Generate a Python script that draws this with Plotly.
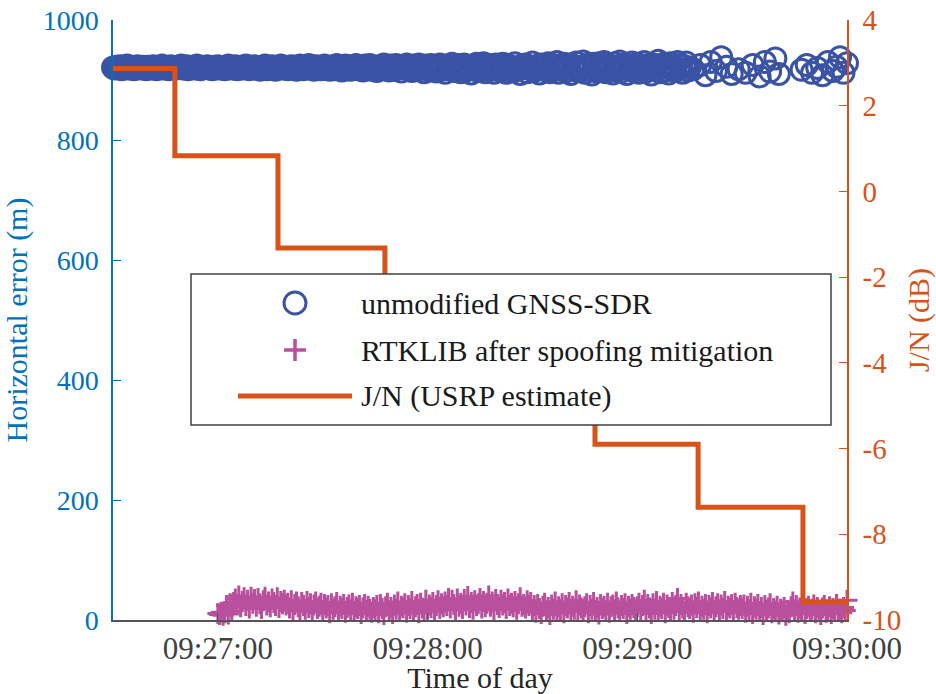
import plotly.graph_objects as go
import pandas as pd

# ---------------- data ----------------
T0 = "2021-01-01 09:26:30"

# unmodified GNSS-SDR horizontal error (m), 2 Hz from 09:26:30
gnss_dense = [
    921,919,922,920,923,918,921,920,924,919,920,922,918,921,923,920,919,922,921,918,
    922,920,919,923,921,918,920,922,924,919,921,920,918,923,920,921,919,922,920,924,
    919,921,923,918,920,922,921,919,924,920,918,922,921,920,923,919,921,918,922,920,
    923,919,921,920,918,922,924,920,919,921,923,918,920,922,919,921,924,920,918,922,
    920,923,919,921,917,922,920,924,918,921,919,923,920,917,922,921,924,919,920,922,
    918,921,923,919,922,917,920,924,921,918,922,920,925,919,921,917,923,920,922,918,
    921,924,919,922,917,920,923,918,925,920,921,916,922,924,919,921,917,923,920,925,
    918,922,920,916,924,921,919,925,917,922,920,915,923,921,918,926,919,922,916,924,
    920,917,925,919,922,914,923,920,926,918,921,915,924,920,917,926,919,922,913,924,
    921,916,925,919,923,914,922,926,917,920,912,924,921,918,927,915,922,919,925,913,
    921,926,916,923,919,911,924,920,927,915,922,918,928,913,921,925,917,920,912,926,
    918,923,915,927,920,912,925,919,922,914,928,917,921,910,924,920,926,913,922,918,
    929,915,921,924,911,926,919,922,916,928,913,920,925,917,930,912,923,919,927,914,
    921,926,910,924,918,929,915,922,920,931,912,925,917,923,909,927,920,914,928,916,
    922,930,913,925,918,921,911,928,916,923,931,914,920,926,910,924,919,929,915,922,
    927,912,921,918,930,914,925,920,909,926,917,923,932,913,921,927,916,924,911,928,
    919,922,915,930,918,925,912,923,929,916,921,
]
gnss_step = 0.5   # seconds between dense samples
# sparser tail (seconds after 09:26:30, error in m)
gnss_tail_t = [166, 168, 169.5, 171, 172.5, 174, 175.5, 177, 179, 181, 183, 185, 186.5,
               188, 189.5, 190.5, 197, 198.5, 200, 201.5, 203, 204.5, 206, 207, 208,
               209, 210, 210.5]
gnss_tail_v = [918, 925, 908, 930, 915, 938, 922, 910, 918, 912, 925, 906, 930,
               914, 936, 910, 917, 925, 912, 920, 908, 930, 915, 922, 938,
               912, 928, 943]

# RTKLIB after spoofing mitigation (m), 2 Hz from 09:27:00
rtk_v = [
    11,9,13,8,12,24,10,27,14,29,
    35,26,40,22,31,37,24,33,20,38,28,34,23,36,27,19,32,38,25,30,22,35,29,24,37,21,31,27,33,25,
    28,20,32,17,26,30,22,15,29,24,18,31,21,27,14,25,30,19,23,28,16,26,20,24,12,27,18,22,29,15,
    23,19,26,13,21,25,17,28,14,22,19,24,11,20,26,16,23,18,13,21,
    17,24,12,26,19,9,22,28,15,21,11,25,18,30,14,23,20,27,13,24,19,31,16,22,26,12,28,20,17,33,
    18,25,21,29,15,24,32,19,27,22,
    30,24,36,20,33,26,17,35,23,28,19,34,25,39,21,29,18,32,24,27,36,20,31,22,28,40,23,30,17,34,
    26,21,33,25,29,19,35,24,28,22,31,18,27,37,23,26,20,32,24,29,
    17,24,13,26,19,11,23,28,15,21,9,25,18,30,14,22,17,27,12,24,20,29,15,23,18,32,16,25,20,14,
    22,27,12,24,18,29,16,21,10,26,19,23,15,28,13,22,25,17,30,20,14,24,19,27,11,23,18,26,21,16,
    22,28,17,24,33,15,26,20,11,27,18,31,14,23,19,28,12,25,21,16,29,18,24,36,17,26,20,14,28,22,
    19,25,13,27,21,30,16,23,18,26,12,24,20,29,15,22,27,17,25,19,31,14,23,20,26,16,28,21,18,24,
    19,25,13,23,17,28,11,22,18,26,14,21,9,24,16,20,27,12,19,15,23,10,18,14,21,8,16,12,22,30,
    17,24,13,20,15,26,11,19,23,14,18,25,12,21,16,9,20,24,13,17,22,11,19,15,26,14,18,12,21,16,33,
]
rtk_start = 30    # seconds after 09:26:30
rtk_step = 0.5    # seconds between samples

# J/N (USRP estimate) steps: seconds after 09:26:30, level in dB
jn_t = [0, 17.7, 47.2, 77.8, 107.9, 137.9, 167.4, 197.4, 210.9]
jn_v = [2.87, 0.83, -1.32, -2.9, -4.4, -5.9, -7.37, -9.58, -9.58]

x_ticks = ["09:27:00", "09:28:00", "09:29:00", "09:30:00"]
y_ticks = [0, 200, 400, 600, 800, 1000]
y2_ticks = [-10, -8, -6, -4, -2, 0, 2, 4]
legend_labels = ["unmodified GNSS-SDR", "RTKLIB after spoofing mitigation", "J/N (USRP estimate)"]

# ---------------- build ----------------
t0 = pd.Timestamp(T0)
def ts(secs):
    return [t0 + pd.Timedelta(seconds=float(s)) for s in secs]

gnss_t = [gnss_step * i for i in range(len(gnss_dense))] + gnss_tail_t
gnss_v = gnss_dense + gnss_tail_v
rtk_t = [rtk_start + rtk_step * i for i in range(len(rtk_v))]

C_BLUE = "#3A53A4"
C_MAG = "#B8509E"
C_OR = "#D95319"
C_AX = "#0072BD"
FONT = "Liberation Serif, Times New Roman, Times, serif"

fig = go.Figure()
fig.add_trace(go.Scatter(
    x=ts(gnss_t), y=gnss_v, mode="markers", cliponaxis=False,
    marker=dict(symbol="circle-open", size=21, color=C_BLUE, line=dict(width=3, color=C_BLUE)),
    showlegend=False))
fig.add_trace(go.Scatter(
    x=ts(rtk_t), y=rtk_v, mode="markers", cliponaxis=False,
    marker=dict(symbol="cross-thin-open", size=15, color=C_MAG, line=dict(width=3, color=C_MAG)),
    showlegend=False))
fig.add_trace(go.Scatter(
    x=ts(jn_t), y=jn_v, mode="lines", yaxis="y2", line_shape="hv",
    line=dict(color=C_OR, width=5), showlegend=False))

tickvals = [pd.Timestamp("2021-01-01 " + s) for s in x_ticks]

fig.update_layout(
    width=936, height=694,
    margin=dict(l=113, r=89, t=20, b=74),
    paper_bgcolor="white", plot_bgcolor="white",
    font=dict(family=FONT, size=30),
    xaxis=dict(
        type="date", range=[t0, t0 + pd.Timedelta(seconds=210)],
        tickvals=tickvals, ticktext=x_ticks,
        ticks="inside", ticklen=7, tickwidth=1.2, tickcolor="#555555",
        showline=True, linecolor="#555555", linewidth=1.5,
        showgrid=False, zeroline=False,
        tickfont=dict(family=FONT, size=31, color="#404040"),
        title=dict(text="Time of day", font=dict(family=FONT, size=30, color="#262626"), standoff=3),
        automargin=False,
    ),
    yaxis=dict(
        range=[0, 1000], tickvals=y_ticks,
        ticks="inside", ticklen=8, tickwidth=1.2, tickcolor=C_AX,
        showline=True, linecolor=C_AX, linewidth=1.5,
        showgrid=False, zeroline=False, ticklabelstandoff=7,
        tickfont=dict(family=FONT, size=28, color=C_AX),
        title=dict(text="Horizontal error (m)", font=dict(family=FONT, size=30, color=C_AX), standoff=12),
        automargin=False,
    ),
    yaxis2=dict(
        overlaying="y", side="right", anchor="x",
        range=[-10, 4], tickvals=y2_ticks, ticktext=[str(v) for v in y2_ticks],
        ticks="inside", ticklen=8, tickwidth=1.2, tickcolor=C_OR,
        showline=True, linecolor=C_OR, linewidth=1.5,
        showgrid=False, zeroline=False, ticklabelstandoff=8,
        tickfont=dict(family=FONT, size=29, color=C_OR),
        title=dict(text="J/N (dB)", font=dict(family=FONT, size=30, color=C_OR), standoff=10),
        automargin=False,
    ),
)

# ---------------- manual legend ----------------
PL, PT, PW, PH = 113, 20, 734, 600
def px(x):
    return (x - PL) / PW
def py(y):
    return (PT + PH - y) / PH

shapes = [
    dict(type="rect", xref="paper", yref="paper", x0=px(191), x1=px(831), y0=py(425), y1=py(274),
         line=dict(color="#404040", width=1.5), fillcolor="white", layer="above"),
    dict(type="circle", xref="paper", yref="paper", x0=px(284), x1=px(306), y0=py(314), y1=py(292),
         line=dict(color=C_BLUE, width=3), layer="above"),
    dict(type="line", xref="paper", yref="paper", x0=px(284), x1=px(306), y0=py(350), y1=py(350),
         line=dict(color=C_MAG, width=3.5), layer="above"),
    dict(type="line", xref="paper", yref="paper", x0=px(295), x1=px(295), y0=py(339), y1=py(361),
         line=dict(color=C_MAG, width=3.5), layer="above"),
    dict(type="line", xref="paper", yref="paper", x0=px(238), x1=px(352), y0=py(396), y1=py(396),
         line=dict(color=C_OR, width=5), layer="above"),
]
annotations = []
for lab, yc in zip(legend_labels, [303, 350, 396]):
    annotations.append(dict(xref="paper", yref="paper", x=px(359), y=py(yc), text=lab,
                            showarrow=False, xanchor="left", yanchor="middle",
                            font=dict(family=FONT, size=30, color="#1a1a1a")))
fig.update_layout(shapes=shapes, annotations=annotations)

fig.write_html("out.html")
